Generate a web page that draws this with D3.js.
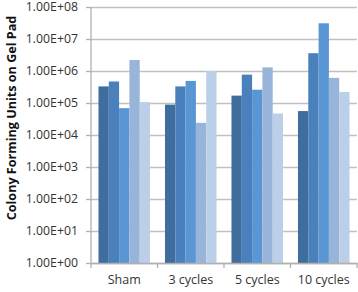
<!DOCTYPE html>
<html>
<head>
<meta charset="utf-8">
<script src="https://cdn.jsdelivr.net/npm/d3@7"></script>
<style>
  body { margin: 0; background: #fff; }
  text { font-family: "Open Sans", "Liberation Sans", sans-serif; }
</style>
</head>
<body>
<figure id="cfu" style="margin:0"></figure>
<script>
// categories along the x axis
var groups = ["Sham", "3 cycles", "5 cycles", "10 cycles"];

// one array per series (five samples in each group)
var series1 = [3.3e5, 8.9e4, 1.7e5, 5.6e4];
var series2 = [4.7e5, 3.3e5, 7.7e5, 3.6e6];
var series3 = [6.9e4, 4.9e5, 2.6e5, 3.1e7];
var series4 = [2.2e6, 2.4e4, 1.3e6, 6.1e5];
var series5 = [1.07e5, 1.0e6, 4.7e4, 2.2e5];

var yTicks = [1e0, 1e1, 1e2, 1e3, 1e4, 1e5, 1e6, 1e7, 1e8];
var colors = ["#3f6d9e", "#4a80bb", "#5a96d4", "#98b5d9", "#bccfe8"];

var allSeries = [series1, series2, series3, series4, series5];

var dimensions = {
	width: 358,
	height: 292,
	margin: { top: 7, right: 1, bottom: 29, left: 91 }
};
dimensions.boundedWidth = dimensions.width - dimensions.margin.left - dimensions.margin.right;
dimensions.boundedHeight = dimensions.height - dimensions.margin.top - dimensions.margin.bottom;

var svg = d3.select("figure#cfu")
	.append("svg")
	.attr("width", dimensions.width)
	.attr("height", dimensions.height)
	.append("g")
	.attr("transform", `translate(${dimensions.margin.left},${dimensions.margin.top})`);

var xScale = d3.scaleBand()
	.domain(groups)
	.range([0, dimensions.boundedWidth])
	.paddingInner(0.225)
	.paddingOuter(0.1125);

var yScale = d3.scaleLog()
	.domain([1, 1e8])
	.range([dimensions.boundedHeight, 0]);

var barScale = d3.scaleBand()
	.domain(d3.range(allSeries.length))
	.range([0, xScale.bandwidth()]);

// gridlines + y axis
var yAxis = svg.append("g")
	.attr("class", "y_axis")
	.call(d3.axisLeft(yScale)
		.tickValues(yTicks)
		.tickFormat(d => "1.00E+" + String(Math.round(Math.log10(d))).padStart(2, "0"))
		.tickSizeInner(-dimensions.boundedWidth)
		.tickSizeOuter(0)
		.tickPadding(13));

yAxis.select(".domain").remove();
yAxis.selectAll("line")
	.attr("stroke", "#c0c0c0")
	.attr("stroke-width", 1.3);
// small tick stubs left of the axis
yAxis.selectAll(".tick")
	.append("line")
	.attr("x1", -5)
	.attr("x2", 0)
	.attr("stroke", "#b0b0b0")
	.attr("stroke-width", 1.3);
yAxis.selectAll("text")
	.style("font-size", "12.3px")
	.style("fill", "#333");

// bars, one group per category
var groupG = svg.selectAll(".grp")
	.data(groups)
	.enter()
	.append("g")
	.attr("class", "grp")
	.attr("transform", d => `translate(${xScale(d)},0)`);

groupG.selectAll("rect")
	.data((g, gi) => allSeries.map((s, si) => ({ si: si, value: s[gi] })))
	.enter()
	.append("rect")
	.attr("x", d => barScale(d.si))
	.attr("width", barScale.bandwidth())
	.attr("y", d => yScale(d.value))
	.attr("height", d => dimensions.boundedHeight - yScale(d.value))
	.attr("fill", d => colors[d.si]);

// y axis line
svg.append("line")
	.attr("x1", 0).attr("x2", 0)
	.attr("y1", 0).attr("y2", dimensions.boundedHeight)
	.attr("stroke", "#b0b0b0")
	.attr("stroke-width", 1.3);

// x axis
var xAxis = svg.append("g")
	.attr("class", "x_axis")
	.attr("transform", `translate(0,${dimensions.boundedHeight})`)
	.call(d3.axisBottom(xScale).tickSize(0).tickPadding(12));
xAxis.select(".domain")
	.attr("stroke", "#b0b0b0")
	.attr("stroke-width", 1.3);
xAxis.selectAll("text")
	.style("font-size", "12.5px")
	.style("fill", "#333");

// ticks between categories
var step = xScale.step();
svg.append("g")
	.selectAll("line")
	.data(d3.range(groups.length + 1))
	.enter()
	.append("line")
	.attr("x1", i => xScale(groups[0]) - xScale.paddingOuter() * step + i * step)
	.attr("x2", i => xScale(groups[0]) - xScale.paddingOuter() * step + i * step)
	.attr("y1", dimensions.boundedHeight)
	.attr("y2", dimensions.boundedHeight + 5)
	.attr("stroke", "#b0b0b0")
	.attr("stroke-width", 1.3);

// y axis title
svg.append("text")
	.attr("transform", `translate(${-75},${111}) rotate(-90)`)
	.attr("text-anchor", "middle")
	.style("font-size", "12.6px")
	.style("font-weight", "bold")
	.style("fill", "#111")
	.text("Colony Forming Units on Gel Pad");
</script>
</body>
</html>
